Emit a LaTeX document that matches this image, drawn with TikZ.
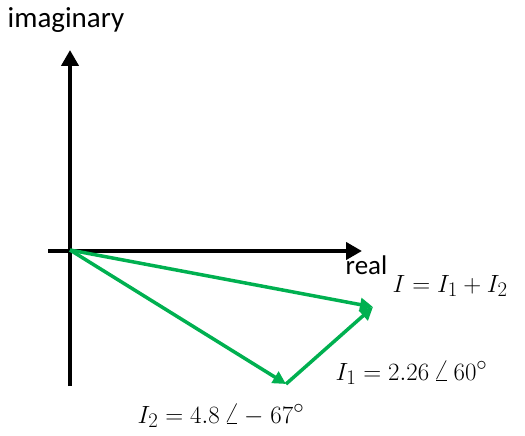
\documentclass[tikz,border=0pt]{standalone}
\usepackage{fontspec}
\setmainfont{Carlito}
\usetikzlibrary{arrows.meta}
\definecolor{phasor}{RGB}{0,176,80}
\begin{document}
\begin{tikzpicture}[x=1pt,y=-1pt,
  axis/.style={line width=4.5pt,-{Triangle[length=16pt,width=17pt]}},
  vec/.style={draw=phasor,line width=3.5pt,-{Triangle[length=13pt,width=13pt]}},
  lbl/.style={inner sep=0.5pt,anchor=base west,font=\fontsize{29}{34}\selectfont},
  mlbl/.style={inner sep=0.5pt,anchor=base west,font=\fontsize{29}{34}\selectfont}]
\useasboundingbox (0,0) rectangle (525,436);
\coordinate (O) at (70,250);
\coordinate (vb) at (70,386);
\coordinate (vt) at (70,50);
\coordinate (hl) at (48,251);
\coordinate (hr) at (362,251);
\coordinate (T) at (286,384);
\coordinate (S) at (373,307);
\draw[axis] (vb) -- (vt);
\draw[axis] (hl) -- (hr);
\draw[vec] (O) -- (S);
\draw[vec] (O) -- (T);
\draw[vec] (T) -- (S);
\node[lbl] (im) at (7,28) {imaginary};
\node[lbl,font=\fontsize{27}{32}\selectfont] (re) at (345,274) {real};
\node[mlbl] (Il) at (392,292) {$I=I_1+I_2$};
\node[mlbl] (I1l) at (335,380) {$I_1=2.26\,\angle\,60^\circ$};
\node[mlbl] (I2l) at (137,423) {$I_2=4.8\,\angle\,{-}\;67^\circ$};
\end{tikzpicture}
\end{document}
